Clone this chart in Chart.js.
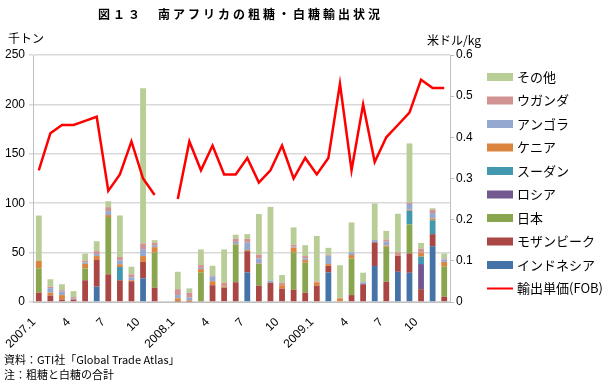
<!DOCTYPE html>
<html>
<head>
<meta charset="utf-8">
<script src="https://cdn.jsdelivr.net/npm/chart.js@4.4.1/dist/chart.umd.min.js"></script>
<style>
  html, body { margin: 0; padding: 0; background: #fff; }
  #wrap { width: 610px; height: 391px; position: relative; }
</style>
</head>
<body>
<div id="wrap"><canvas id="myChart" width="610" height="391"></canvas></div>
<script>
// months 2007.1 - 2009.12
const months = [
	"2007.1","2","3","4","5","6","7","8","9","10","11","12",
	"2008.1","2","3","4","5","6","7","8","9","10","11","12",
	"2009.1","2","3","4","5","6","7","8","9","10","11","12",
];

// 千トン
const indonesia = [0,0,0,0,0,15.5,0,0,0,24,0,null, 0,0,0,0,0,0,30,0,0,0,0,0, 0,30,0,0,0,36.4,0,30.6,29.6,0,56.5,0];
const mozambique = [9.5,6.5,2.5,2.5,22,27,28,22,21,16.7,14.5,null, 0.5,0.5,1,17,14.5,20,21.5,16.5,19.5,13.5,12.5,9.4, 16.5,6.7,0,7,18,24,20.5,16.2,19.6,13,12.2,5.4];
const japan = [24.5,0,0,0,12,0,58,0,0,0,35.5,null, 0,0,29,0,0,38.3,0,22,0,0,37.7,30.3, 0,0,0,37,0,0,35.4,0,29.3,0,0,30.3];
const russia = [0,0,0,0,0,0,0,0,0,0,0,null, 0,0,0,0,0,0,0,0,0,0,0,0, 0,0,0,0,0,0,0,0,0,25.4,0,0];
const sudan = [0,0,0,0,0,0,0,13.5,0,0,0,null, 0,0,0,0,0,0,0,0,0,0,0,0, 0,0,0,0,0,0,0,0,14,7.4,14,0];
const kenya = [7.5,3,4.5,0,4.5,4,2,2.7,1,5.8,5.5,null, 3.2,1.2,3.3,4,1,0.5,1,0.5,0,3.5,4.8,2.7, 3.4,1.7,3.7,3.5,0,0,1.3,0.5,1,4.2,1.7,5];
const angola = [0,4.5,3.5,1,1.5,2,4,4,3,7,2,null, 3.3,2.7,1.2,5,0,2,7.5,5,2,0,1,1.6, 0,8.4,0,2.7,2,2.3,3.8,0,5.7,0.5,5.7,2.4];
const uganda = [0,1.5,1.5,1.5,2,3,4,3.4,3,5.8,2.5,null, 6,5,2.9,1,4,3.3,4,4,0,2.5,2,2.5, 1,1,0.5,0,0,0,2.3,3,1.3,3.5,3.4,1];
const other = [46,7.5,6,6,7,10,6,42,7.7,157,2.6,null, 17.6,4.4,15.8,9.7,33.7,4,4.7,41,74.8,7.8,17.5,11, 46,7,33,30.3,9.7,37,8.7,39,60,5.8,1.4,5];

// 米ドル/kg
const unitPrice = [0.32,0.41,0.43,0.43,0.44,0.45,0.27,0.31,0.39,0.30,0.26,null,
	0.25,0.39,0.32,0.38,0.31,0.31,0.35,0.29,0.32,0.38,0.30,0.35,
	0.31,0.35,0.53,0.32,0.48,0.34,0.40,0.43,0.46,0.54,0.52,0.52];

const leftTicks = [0, 50, 100, 150, 200, 250];
const rightTicks = [0, 0.1, 0.2, 0.3, 0.4, 0.5, 0.6];

const tickFont = { family: "'Liberation Sans', Arial, sans-serif", size: 12 };
const jpFont = "'Noto Sans CJK JP', sans-serif";

function bar(label, data, color) {
	return { type: "bar", label: label, data: data, backgroundColor: color, yAxisID: "y", order: 1 };
}

// title, units, notes, legend
const textPlugin = {
	id: "texts",
	afterDraw(chart) {
		const c = chart.ctx;
		c.save();
		c.fillStyle = "#000";
		c.textBaseline = "middle";
		c.font = "bold 12px " + jpFont;
		c.letterSpacing = "3px";
		c.textAlign = "left";
		c.fillText("図１３　南アフリカの粗糖・白糖輸出状況", 98, 14);
		c.letterSpacing = "0px";
		c.font = "12px " + jpFont;
		c.fillText("千トン", 8, 38);
		c.fillText("米ドル/kg", 427, 40);
		c.font = "11px " + jpFont;
		c.fillText("資料：GTI社「Global Trade Atlas」", 4, 360);
		c.fillText("注：粗糖と白糖の合計", 4, 375);

		// legend
		const bars = chart.data.datasets.filter((d) => d.type === "bar").reverse();
		const line = chart.data.datasets.find((d) => d.type === "line");
		const items = bars.concat([line]);
		c.font = "13px " + jpFont;
		items.forEach((d, i) => {
			const y = 77 + i * 23.5;
			if (d.type === "bar") {
				c.fillStyle = d.backgroundColor;
				c.fillRect(487, y - 4, 26, 8);
			} else {
				c.strokeStyle = d.borderColor;
				c.lineWidth = 2;
				c.beginPath();
				c.moveTo(487, y);
				c.lineTo(513, y);
				c.stroke();
			}
			c.fillStyle = "#000";
			c.fillText(d.label, 517, y);
		});
		c.restore();
	},
};

const ctx = document.getElementById("myChart");

new Chart(ctx, {
	data: {
		labels: months,
		datasets: [
			bar("インドネシア", indonesia, "#4572A7"),
			bar("モザンビーク", mozambique, "#AA4643"),
			bar("日本", japan, "#89A54E"),
			bar("ロシア", russia, "#71588F"),
			bar("スーダン", sudan, "#4198AF"),
			bar("ケニア", kenya, "#DB843D"),
			bar("アンゴラ", angola, "#93A9CF"),
			bar("ウガンダ", uganda, "#D19392"),
			bar("その他", other, "#B9CD96"),
			{
				type: "line",
				label: "輸出単価(FOB)",
				data: unitPrice,
				yAxisID: "y1",
				borderColor: "#FF0000",
				borderWidth: 2.5,
				pointRadius: 0,
				tension: 0,
				spanGaps: false,
				order: 0,
			},
		],
	},
	options: {
		responsive: false,
		animation: false,
		layout: { padding: { top: 55, left: 0, right: 130, bottom: 39 } },
		datasets: { bar: { barPercentage: 0.5, categoryPercentage: 1 } },
		plugins: { legend: { display: false }, tooltip: { enabled: false } },
		scales: {
			x: {
				stacked: true,
				grid: { display: false },
				border: { color: "#bfbfbf" },
				ticks: {
					autoSkip: false,
					maxRotation: 45,
					minRotation: 45,
					color: "#000",
					font: tickFont,
					padding: 5,
					labelOffset: -5,
					callback: (v, i) => (i % 3 === 0 ? months[i] : ""),
				},
				afterFit: (s) => { s.height = 50; },
			},
			y: {
				stacked: true,
				position: "left",
				min: leftTicks[0],
				max: leftTicks[leftTicks.length - 1],
				afterBuildTicks: (s) => { s.ticks = leftTicks.map((v) => ({ value: v })); },
				grid: { color: "#d9d9d9", lineWidth: 1.5, tickLength: 4 },
				border: { color: "#bfbfbf" },
				ticks: { color: "#000", font: tickFont, padding: 4 },
				afterFit: (s) => { s.width = 33; },
			},
			y1: {
				position: "right",
				min: 0,
				max: 0.6,
				afterBuildTicks: (s) => { s.ticks = rightTicks.map((v) => ({ value: v })); },
				grid: { drawOnChartArea: false, color: "#bfbfbf", tickLength: 4 },
				border: { color: "#bfbfbf" },
				ticks: {
					color: "#000",
					font: tickFont,
					padding: 2,
					callback: (v) => (v === 0 ? "0" : v.toFixed(1)),
				},
				afterFit: (s) => { s.width = 30; },
			},
		},
	},
	plugins: [textPlugin],
});
</script>
</body>
</html>
